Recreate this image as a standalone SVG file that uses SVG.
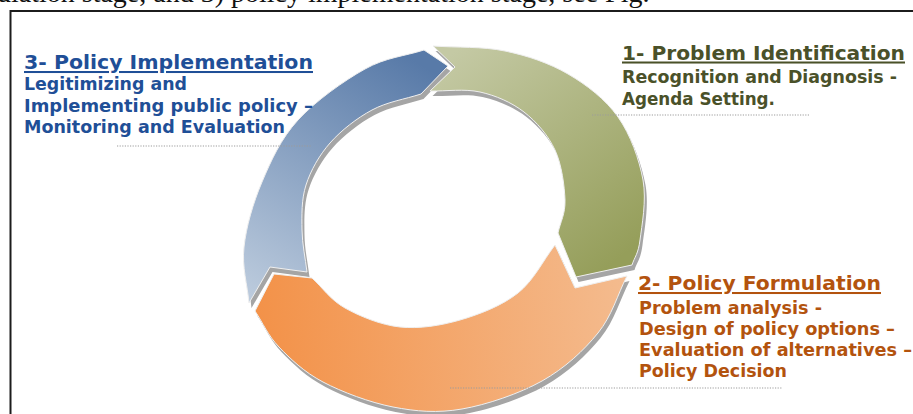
<svg xmlns="http://www.w3.org/2000/svg" width="913" height="414" viewBox="0 0 913 414">
<style>
  .frame{fill:none;stroke:#1c1c1c;stroke-width:2}
  .top{font-family:"Liberation Serif","Times New Roman",serif;font-size:28px;fill:#111}
  .lbl{font-family:"DejaVu Sans",Verdana,sans-serif;font-weight:bold}
  .title{font-size:20.3px;text-decoration:underline}
  .body{font-size:17.4px}
  .c1{fill:#4a5129}
  .c2{fill:#b3530e}
  .c3{fill:#1f4f97}
  .depth{fill:#a5a5a5}
  .seg{stroke:#efefef;stroke-width:1}
  .leader{fill:none;stroke:#9b9b9b;stroke-width:1.2;stroke-dasharray:1.2 1.4}
</style>
<defs>
  <linearGradient id="gBlue" gradientUnits="userSpaceOnUse" x1="405" y1="55" x2="255" y2="300">
    <stop offset="0" stop-color="#587aa8"/>
    <stop offset="1" stop-color="#bccbdd"/>
  </linearGradient>
  <linearGradient id="gGreen" gradientUnits="userSpaceOnUse" x1="450" y1="55" x2="610" y2="265">
    <stop offset="0" stop-color="#c4c9a4"/>
    <stop offset="1" stop-color="#959e5a"/>
  </linearGradient>
  <linearGradient id="gOrange" gradientUnits="userSpaceOnUse" x1="260" y1="330" x2="625" y2="290">
    <stop offset="0" stop-color="#f39249"/>
    <stop offset="1" stop-color="#f4bb8e"/>
  </linearGradient>
  <path id="seg3" d="M249,303 C247.3,284.3 241.8,267.2 244,247 C246.2,226.8 253,203.2 262,182 C271,160.8 280.8,138.8 298,120 C315.2,101.2 344,80.7 365,69 C386,57.3 404.3,56.3 424,50 L448,66 L421,94 C404.7,99.3 387.2,101.8 372,110 C356.8,118.2 341,130.5 330,143 C319,155.5 310.7,170.5 306,185 C301.3,199.5 301.8,215.5 302,230 C302.2,244.5 305.3,258 307,272 L270,267 Z"/>
  <path id="seg1" d="M433,46 C457,47.7 482.5,46.3 505,51 C527.5,55.7 549.2,63 568,74 C586.8,85 605.5,99.3 618,117 C630.5,134.7 639.3,159.5 643,180 C646.7,200.5 641.8,225.8 640,240 C638.2,254.2 634.7,256.7 632,265 L576,277 L558,233 C560.3,222 565.5,213.8 565,200 C564.5,186.2 561.8,164.7 555,150 C548.2,135.3 536.5,121.7 524,112 C511.5,102.3 495.7,95.5 480,92 C464.3,88.5 446.7,91.3 430,91 L455,67 Z"/>
  <path id="seg2" d="M627,276 C617.3,295 612.2,315.5 598,333 C583.8,350.5 564.7,368.3 542,381 C519.3,393.7 486.8,404.7 462,409 C437.2,413.3 416.2,411.5 393,407 C369.8,402.5 342,392 323,382 C304,372 290.3,358.8 279,347 C267.7,335.2 263,323 255,311 L274,274 L312,278 C323,288 330.3,299.8 345,308 C359.7,316.2 380.8,325 400,327 C419.2,329 440.3,325.7 460,320 C479.7,314.3 502.2,305.5 518,293 C533.8,280.5 542.7,261 555,245 L575,288 Z"/>
</defs>

<text class="top" x="-3" y="1.5">ulation stage, and 3) policy implementation stage, see Fig.</text>
<path class="frame" d="M10.5,414 V11 H913"/>

<g id="ring-depth">
  <use href="#seg3" class="depth" transform="translate(2.5,5)"/>
  <use href="#seg1" class="depth" transform="translate(2.5,5)"/>
  <use href="#seg2" class="depth" transform="translate(2.5,5)"/>
</g>

<g id="node-1">
  <use href="#seg1" class="seg" fill="url(#gGreen)"/>
  <text class="lbl title c1" x="622" y="59.5" textLength="283" lengthAdjust="spacingAndGlyphs">1- Problem Identification</text>
  <text class="lbl body c1" x="622" y="83" textLength="275" lengthAdjust="spacingAndGlyphs">Recognition and Diagnosis -</text>
  <text class="lbl body c1" x="622" y="104.5" textLength="153" lengthAdjust="spacingAndGlyphs">Agenda Setting.</text>
</g>

<g id="node-2">
  <use href="#seg2" class="seg" fill="url(#gOrange)"/>
  <text class="lbl title c2" x="638" y="290" textLength="243" lengthAdjust="spacingAndGlyphs">2- Policy Formulation</text>
  <text class="lbl body c2" x="639" y="313.5" textLength="183" lengthAdjust="spacingAndGlyphs">Problem analysis -</text>
  <text class="lbl body c2" x="639" y="334.5" textLength="256" lengthAdjust="spacingAndGlyphs">Design of policy options –</text>
  <text class="lbl body c2" x="639" y="355.5" textLength="273" lengthAdjust="spacingAndGlyphs">Evaluation of alternatives –</text>
  <text class="lbl body c2" x="639" y="376.5" textLength="148" lengthAdjust="spacingAndGlyphs">Policy Decision</text>
</g>

<g id="node-3">
  <use href="#seg3" class="seg" fill="url(#gBlue)"/>
  <text class="lbl title c3" x="24" y="69" textLength="289" lengthAdjust="spacingAndGlyphs">3- Policy Implementation</text>
  <text class="lbl body c3" x="24" y="90" textLength="163" lengthAdjust="spacingAndGlyphs">Legitimizing and</text>
  <text class="lbl body c3" x="24" y="111.5" textLength="289" lengthAdjust="spacingAndGlyphs">Implementing public policy –</text>
  <text class="lbl body c3" x="24" y="132.5" textLength="261" lengthAdjust="spacingAndGlyphs">Monitoring and Evaluation</text>
</g>

<g id="connectors">
  <path class="leader" d="M117,146 H312"/>
  <path class="leader" d="M592,115 H810"/>
  <path class="leader" d="M450,388 H782"/>
</g>
</svg>
